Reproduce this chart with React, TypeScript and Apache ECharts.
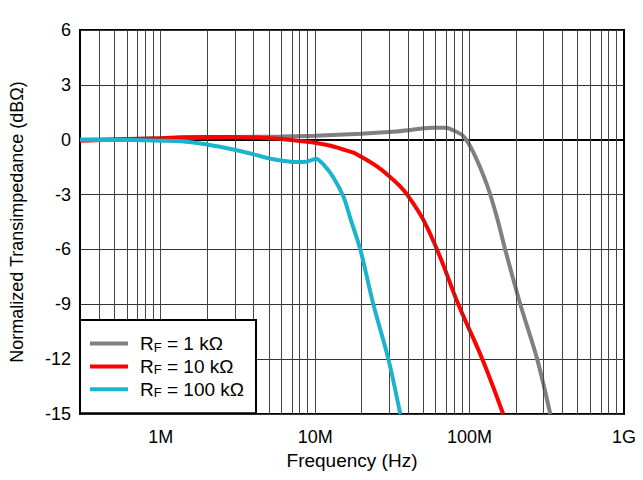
import React, { useEffect, useRef } from "react";
import * as echarts from "echarts";

// Axis ranges
const FREQ_MIN = 3e5;
const FREQ_MAX = 1e9;
const Y_MIN = -15;
const Y_MAX = 6;
const Y_STEP = 3;

// X tick labels
const xTickFreqs = [1e6, 1e7, 1e8, 1e9];
const xTickLabels = ["1M", "10M", "100M", "1G"];

// Log grid
const gridDecades = [1e5, 1e6, 1e7, 1e8];
const gridMultipliers = [1, 2, 3, 4, 5, 6, 7, 8, 9];

// Series names
const seriesNames = ["RF = 1 kΩ", "RF = 10 kΩ", "RF = 100 kΩ"];
const seriesColors = ["#808080", "#ff0000", "#1bb4cd"];

// RF = 1 kΩ
const rf1kFreq = [3e5, 1e6, 3e6, 6e6, 10e6, 20e6, 30e6, 40e6, 48e6, 58e6, 70e6, 78e6, 91e6, 106e6, 130e6, 151e6, 170e6, 213e6, 274e6, 333e6];
const rf1kDb = [0, 0.08, 0.15, 0.18, 0.22, 0.33, 0.42, 0.52, 0.6, 0.65, 0.65, 0.52, 0.2, -0.7, -2.5, -4.3, -6, -9, -12, -15];

// RF = 10 kΩ
const rf10kFreq = [3e5, 1e6, 1.35e6, 2e6, 3e6, 4.4e6, 6.25e6, 9.3e6, 12.6e6, 15e6, 17.7e6, 20e6, 25e6, 30.7e6, 35e6, 39.4e6, 50e6, 64.7e6, 84.5e6, 121e6, 165e6];
const rf10kDb = [-0.05, 0.08, 0.13, 0.15, 0.15, 0.11, 0.03, -0.13, -0.33, -0.52, -0.71, -0.95, -1.45, -2.05, -2.5, -3.0, -4.36, -6.45, -9, -12, -15];

// RF = 100 kΩ
const rf100kFreq = [3e5, 6e5, 1e6, 1.35e6, 2e6, 3e6, 4e6, 5.15e6, 6.94e6, 8.4e6, 9.6e6, 10.1e6, 11.3e6, 13.1e6, 15.3e6, 16.9e6, 19.6e6, 23.8e6, 29.8e6, 35.6e6];
const rf100kDb = [0, -0.02, -0.05, -0.08, -0.26, -0.55, -0.8, -1.04, -1.2, -1.22, -1.1, -1.04, -1.35, -2.05, -3.15, -4.3, -6, -9, -12, -15];

const FONT = "'Liberation Sans', Arial, Helvetica, sans-serif";

function pairs(freqs: number[], vals: number[]) {
  return freqs.map((f, i) => [Math.log10(f), vals[i]]);
}

export default function App() {
  const ref = useRef<HTMLDivElement>(null);

  useEffect(() => {
    if (!ref.current) return;
    const chart = echarts.init(ref.current, undefined, { renderer: "svg" });

    const xMin = Math.log10(FREQ_MIN);
    const xMax = Math.log10(FREQ_MAX);
    const gridLines: number[] = [];
    gridDecades.forEach((d) =>
      gridMultipliers.forEach((m) => {
        const v = Math.log10(d * m);
        if (v > xMin + 1e-6 && v < xMax - 1e-6) gridLines.push(v);
      })
    );
    const tickVals = xTickFreqs.map((f) => Math.log10(f));

    const data = [
      pairs(rf1kFreq, rf1kDb),
      pairs(rf10kFreq, rf10kDb),
      pairs(rf100kFreq, rf100kDb),
    ];
    const smoothness = [0.3, 0.4, 0.3];

    const option: any = {
      animation: false,
      backgroundColor: "#ffffff",
      textStyle: { fontFamily: FONT },
      grid: {
        left: 80,
        right: 19,
        top: 30,
        bottom: 66,
        show: true,
        borderColor: "#000",
        borderWidth: 2,
        backgroundColor: "transparent",
      },
      xAxis: {
        type: "value",
        min: xMin,
        max: xMax,
        name: "Frequency (Hz)",
        nameLocation: "middle",
        nameGap: 33,
        nameTextStyle: { fontSize: 19, color: "#000", fontFamily: FONT },
        axisLine: { show: true, lineStyle: { color: "#000", width: 2 } },
        axisTick: { show: false },
        splitLine: { show: false },
        axisLabel: {
          customValues: tickVals,
          fontSize: 18,
          color: "#000",
          margin: 14,
          fontFamily: FONT,
          formatter: (v: number) => {
            const i = tickVals.findIndex((t) => Math.abs(t - v) < 1e-6);
            return i >= 0 ? xTickLabels[i] : "";
          },
        },
      },
      yAxis: {
        type: "value",
        min: Y_MIN,
        max: Y_MAX,
        interval: Y_STEP,
        name: "Normalized Transimpedance (dBΩ)",
        nameLocation: "middle",
        nameGap: 54,
        nameTextStyle: { fontSize: 18, color: "#000", fontFamily: FONT },
        axisLine: { show: true, lineStyle: { color: "#000", width: 2 } },
        axisTick: { show: false },
        splitLine: { show: true, lineStyle: { color: "#333", width: 1 } },
        axisLabel: { fontSize: 18, color: "#000", margin: 9, fontFamily: FONT },
      },
      legend: {
        data: seriesNames,
        orient: "vertical",
        left: 80,
        top: 320,
        padding: [14, 12, 14, 10],
        itemGap: 3.4,
        itemWidth: 38,
        itemHeight: 4,
        icon: "rect",
        backgroundColor: "#fff",
        borderColor: "#000",
        borderWidth: 2,
        z: 10,
        formatter: (name: string) => `{r|R}{s|F}{t|${name.slice(2)}}`,
        textStyle: {
          fontFamily: FONT,
          rich: {
            r: { fontSize: 19, lineHeight: 20, color: "#000", padding: [0, 0, 0, 7], fontFamily: FONT },
            s: { fontSize: 13, lineHeight: 8, verticalAlign: "bottom", color: "#000", fontFamily: FONT },
            t: { fontSize: 19, lineHeight: 20, color: "#000", fontFamily: FONT },
          },
        },
      },
      series: [
        {
          name: "grid",
          type: "line",
          data: [],
          silent: true,
          z: 1,
          markLine: {
            silent: true,
            symbol: ["none", "none"],
            label: { show: false },
            lineStyle: { color: "#444", width: 1, type: "solid" },
            emphasis: { disabled: true },
            data: gridLines.map((v) => ({ xAxis: v })),
          },
        },
        ...seriesNames.map((name, i) => ({
          name,
          type: "line",
          data: data[i],
          smooth: smoothness[i],
          symbol: "none",
          showSymbol: false,
          z: 3 + i,
          lineStyle: { color: seriesColors[i], width: 4 },
          itemStyle: { color: seriesColors[i] },
          emphasis: { disabled: true },
        })),
      ],
    };

    chart.setOption(option);
    return () => chart.dispose();
  }, []);

  return (
    <div
      ref={ref}
      style={{ position: "absolute", left: 0, top: 0, width: 643, height: 480, background: "#fff" }}
    />
  );
}
